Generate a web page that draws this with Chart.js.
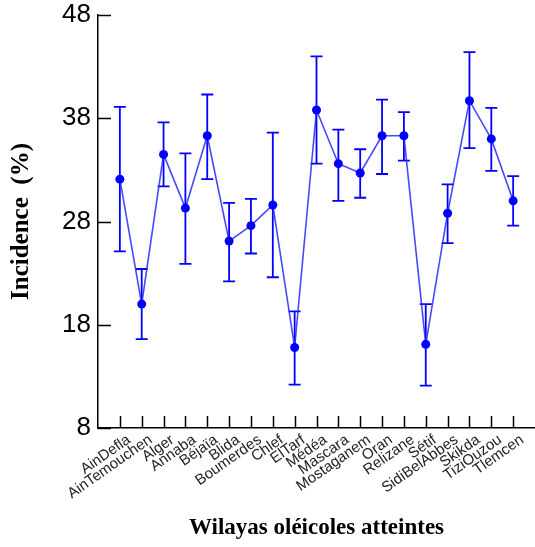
<!DOCTYPE html>
<html>
<head>
<meta charset="utf-8">
<script src="https://cdn.jsdelivr.net/npm/chart.js@4/dist/chart.umd.min.js"></script>
<style>
  html, body { margin: 0; padding: 0; background: #fff; }
  canvas { display: block; }
</style>
</head>
<body>
<canvas id="chart" width="535" height="547"></canvas>
<script>
// Wilayas surveyed, in axis order
const wilayas = ['AinDefla', 'AinTemouchen', 'Alger', 'Annaba', 'Béjaïa', 'Blida', 'Boumerdes',
  'Chlef', 'ElTarf', 'Médéa', 'Mascara', 'Mostaganem', 'Oran', 'Relizane', 'Sétif',
  'SidiBelAbbes', 'Skikda', 'TiziOuzou', 'Tlemcen'];

// Mean incidence (%) per wilaya
const incidence = [32.1, 20.0, 34.5, 29.3, 36.3, 26.1, 27.6, 29.6, 15.8, 38.8,
  33.6, 32.7, 36.3, 36.3, 16.1, 28.8, 39.7, 36.0, 30.0];

// Lower and upper ends of the error bars (%)
const errLow = [25.1, 16.6, 31.4, 23.9, 32.1, 22.2, 24.9, 22.6, 12.2, 33.6,
  30.0, 30.3, 32.6, 33.9, 12.1, 25.9, 35.1, 32.9, 27.6];
const errHigh = [39.1, 23.4, 37.6, 34.6, 40.3, 29.8, 30.2, 36.6, 19.3, 44.0,
  36.9, 35.0, 39.8, 38.6, 20.0, 31.6, 44.4, 39.0, 32.4];

// Y axis tick values
const yTicks = [8, 18, 28, 38, 48];

const BLUE = '#0000ff';

// Vertical error bars with caps, drawn beneath the line and markers
const errorBars = {
  id: 'errorBars',
  beforeDatasetsDraw(chart) {
    const { ctx, scales: { x, y } } = chart;
    ctx.save();
    ctx.strokeStyle = BLUE;
    ctx.lineWidth = 1.8;
    const cap = 6;
    incidence.forEach((_, i) => {
      const px = x.getPixelForValue(i + 1);
      const lo = y.getPixelForValue(errLow[i]);
      const hi = y.getPixelForValue(errHigh[i]);
      ctx.beginPath();
      ctx.moveTo(px, lo); ctx.lineTo(px, hi);
      ctx.moveTo(px - cap, lo); ctx.lineTo(px + cap, lo);
      ctx.moveTo(px - cap, hi); ctx.lineTo(px + cap, hi);
      ctx.stroke();
    });
    ctx.restore();
  }
};

// Tick marks pointing into the plot area
const innerTicks = {
  id: 'innerTicks',
  afterDatasetsDraw(chart) {
    const { ctx, chartArea, scales: { x, y } } = chart;
    ctx.save();
    ctx.strokeStyle = '#000';
    ctx.lineWidth = 1.5;
    ctx.beginPath();
    x.ticks.forEach(t => {
      const px = Math.round(x.getPixelForValue(t.value)) + 0.5;
      ctx.moveTo(px, chartArea.bottom);
      ctx.lineTo(px, chartArea.bottom - 12);
    });
    y.ticks.forEach(t => {
      const py = Math.round(y.getPixelForValue(t.value)) + 0.5;
      ctx.moveTo(chartArea.left, py);
      ctx.lineTo(chartArea.left + 13, py);
    });
    ctx.stroke();
    ctx.restore();
  }
};

new Chart(document.getElementById('chart'), {
  type: 'line',
  data: {
    datasets: [{
      data: incidence.map((v, i) => ({ x: i + 1, y: v })),
      borderColor: 'rgba(40, 40, 255, 0.85)',
      borderWidth: 1.6,
      tension: 0,
      pointRadius: 4.5,
      pointBackgroundColor: BLUE,
      pointBorderWidth: 0,
      fill: false,
      clip: false
    }]
  },
  options: {
    responsive: false,
    devicePixelRatio: 1,
    animation: false,
    layout: { autoPadding: false, padding: { top: 15, right: 0, bottom: 0, left: 0 } },
    plugins: { legend: { display: false }, tooltip: { enabled: false } },
    scales: {
      x: {
        type: 'linear',
        min: 0,
        max: 20,
        afterBuildTicks(scale) {
          scale.ticks = wilayas.map((_, i) => ({ value: i + 1 }));
        },
        afterFit(scale) {
          scale.height = 119;
          scale.paddingLeft = 0;
          scale.paddingRight = 0;
        },
        grid: { display: false, drawTicks: false },
        border: { display: true, color: '#000', width: 1.5 },
        ticks: {
          autoSkip: false,
          maxRotation: 35,
          minRotation: 35,
          padding: 3,
          labelOffset: 9,
          color: '#222',
          font: { family: "'Liberation Sans', Arial, sans-serif", size: 15 },
          callback: (v) => wilayas[v - 1]
        },
        title: {
          display: true,
          text: 'Wilayas oléicoles atteintes',
          color: '#000',
          padding: { top: 0, bottom: 5 },
          font: { family: "'Liberation Serif', 'Times New Roman', serif", size: 23, weight: 'bold' }
        }
      },
      y: {
        type: 'linear',
        min: 8,
        max: 48,
        afterBuildTicks(scale) {
          scale.ticks = yTicks.map(v => ({ value: v }));
        },
        afterFit(scale) {
          scale.width = 98;
          scale.paddingTop = 0;
          scale.paddingBottom = 0;
        },
        grid: { display: false, drawTicks: false },
        border: { display: true, color: '#000', width: 1.5 },
        ticks: {
          padding: 7,
          color: '#000',
          font: { family: "'Liberation Sans', Arial, sans-serif", size: 26 }
        },
        title: {
          display: true,
          text: 'Incidence  (%)',
          color: '#000',
          padding: { top: 7, bottom: 0 },
          font: { family: "'Liberation Serif', 'Times New Roman', serif", size: 25, weight: 'bold' }
        }
      }
    }
  },
  plugins: [errorBars, innerTicks]
});
</script>
</body>
</html>
